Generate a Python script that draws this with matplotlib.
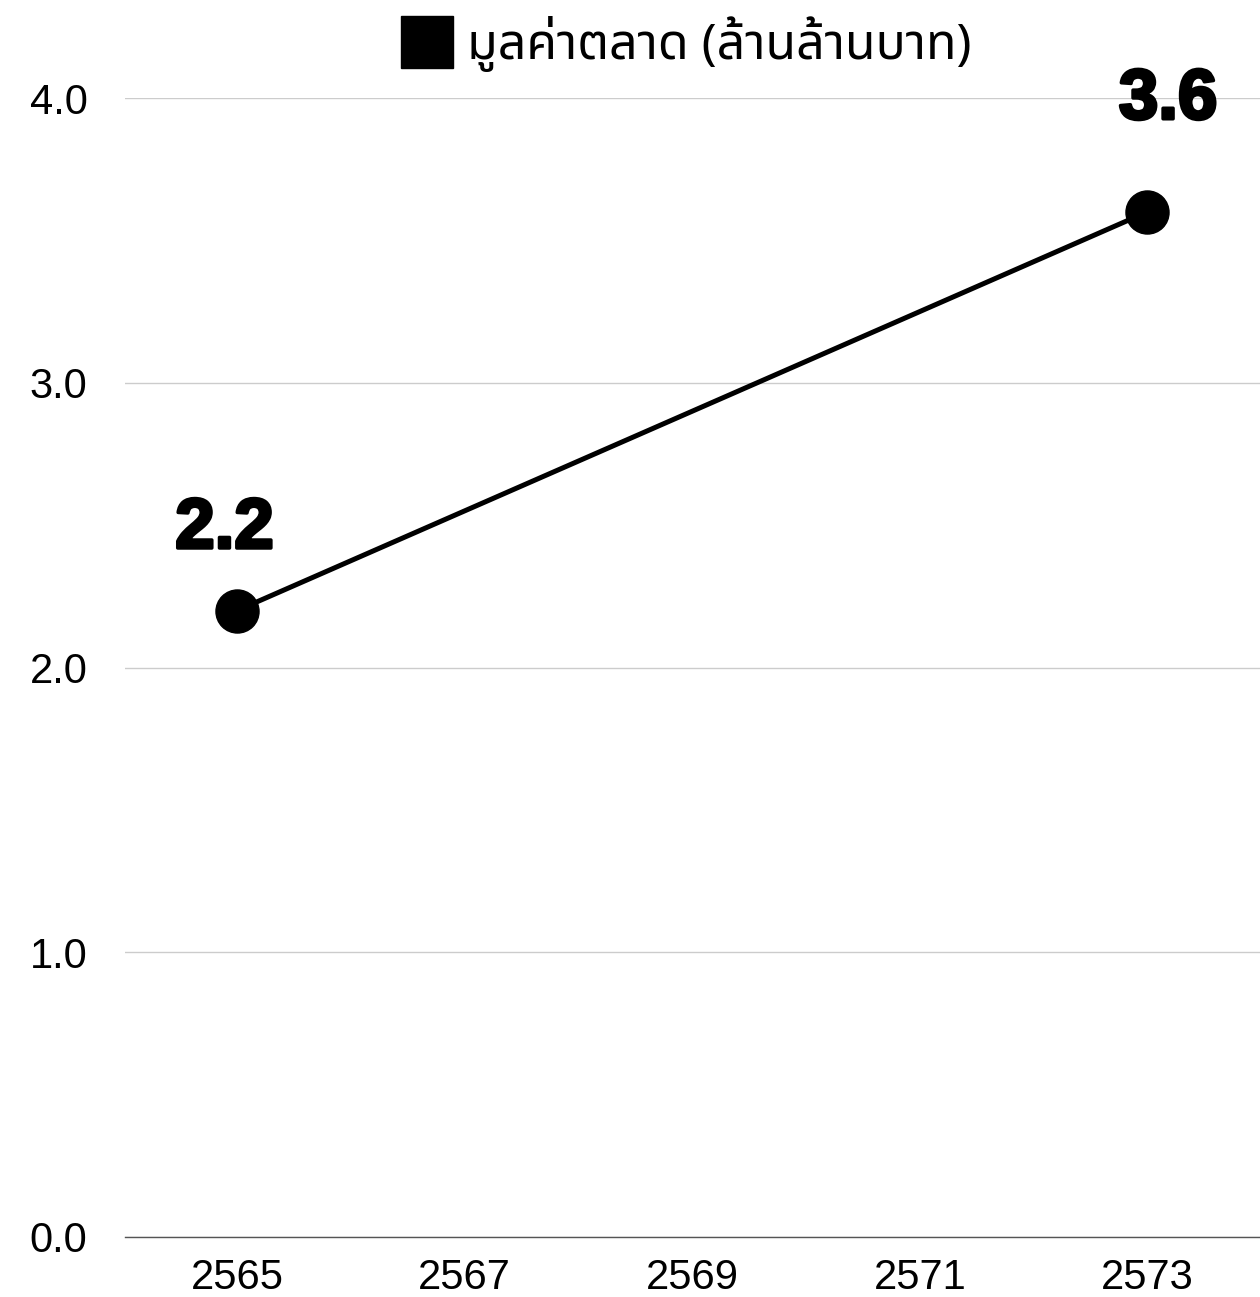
import matplotlib
matplotlib.use("Agg")
import matplotlib.pyplot as plt
from matplotlib.lines import Line2D
import matplotlib.patheffects as pe

years = [2565, 2573]
values = [2.2, 3.6]
value_labels = ["2.2", "3.6"]
xticks = [2565, 2567, 2569, 2571, 2573]
yticks = [0.0, 1.0, 2.0, 3.0, 4.0]
series_name = "มูลค่าตลาด (ล้านล้านบาท)"

plt.rcParams['font.family'] = ['Liberation Sans', 'Noto Sans Thai', 'DejaVu Sans']

fig = plt.figure(figsize=(12.6, 12.97), dpi=100)
ax = fig.add_axes([125/1260, 1 - 1237/1297, 1 - 125/1260, (1237 - 98)/1297])

ax.plot(years, values, color='black', lw=3.6, marker='o', markersize=31, zorder=3, clip_on=False)

offsets = [(-9, 58), (15, 80)]
for x, y, t, off in zip(years, values, value_labels, offsets):
    ax.annotate(t, (x, y), xytext=off, textcoords='offset points', ha='center', va='center',
                fontsize=51, fontweight='bold', color='black',
                path_effects=[pe.withStroke(linewidth=2.5, foreground='black')])

ax.set_xlim(2564.015, 2573.99)
ax.set_ylim(0, 4)
ax.set_xticks(xticks)
ax.set_xticklabels([str(v) for v in xticks])
ax.set_yticks(yticks)
ax.set_yticklabels([f"{v:.1f}" for v in yticks])
ax.tick_params(axis='both', length=0, labelsize=30, colors='black')
ax.tick_params(axis='x', pad=15)
ax.tick_params(axis='y', pad=27)

ax.grid(axis='y', color='#cccccc', lw=1)
ax.set_axisbelow(True)
for s in ['top', 'right', 'left']:
    ax.spines[s].set_visible(False)
ax.spines['bottom'].set_color('#555555')
ax.spines['bottom'].set_linewidth(1)

handle = Line2D([], [], color='black', marker='s', linestyle='none', markersize=37)
leg = fig.legend([handle], [series_name], loc='center', bbox_to_anchor=(687/1260, 1 - 44/1297),
                 frameon=False, handletextpad=0.3, handlelength=1.0,
                 prop={'family': ['Noto Sans Thai', 'DejaVu Sans'], 'size': 36})

fig.savefig("out.png", dpi=100)
